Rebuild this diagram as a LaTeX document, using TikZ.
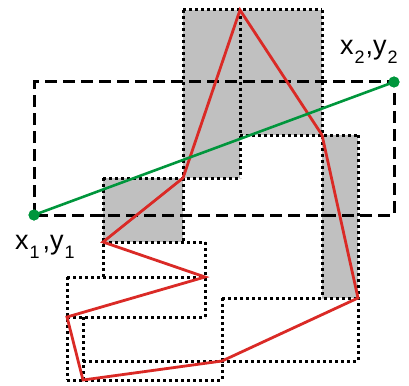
\documentclass[tikz,border=0pt]{standalone}
\usepackage{fontspec}
\setmainfont{Liberation Sans}
\definecolor{redline}{RGB}{218,42,38}
\definecolor{greenline}{RGB}{0,150,60}
\definecolor{boxgray}{RGB}{192,192,192}
\newcommand{\sublbl}[1]{\kern1pt\raisebox{-9pt}{\fontsize{18}{18}\selectfont #1}\kern1pt}
\begin{document}
\begin{tikzpicture}[x=1pt,y=-1pt,
  mbr/.style={line width=3pt,dash pattern=on 3pt off 3pt,black},
  grayfill/.style={fill=boxgray,draw=none},
  query/.style={line width=3pt,dash pattern=on 12pt off 6pt,black},
  edge/.style={line width=2.8pt,redline,line join=miter},
  seg/.style={line width=2.6pt,greenline},
  endpt/.style={circle,fill=greenline,inner sep=0pt,minimum size=11pt},
  lbl/.style={font=\fontsize{27}{27}\selectfont,inner sep=0pt}]
\useasboundingbox (0,0) rectangle (409,385);
% polygon vertices
\coordinate (p1) at (240,10);
\coordinate (p2) at (322,135);
\coordinate (p3) at (358,298);
\coordinate (p4) at (222,361);
\coordinate (p5) at (83,380);
\coordinate (p6) at (67,317);
\coordinate (p7) at (205,277);
\coordinate (p8) at (103,242);
\coordinate (p9) at (183,178);
% gray MBRs
\fill[grayfill] (p9) rectangle (p1);
\fill[grayfill] (p1) rectangle (p2);
\fill[grayfill] (p2) rectangle (p3);
\fill[grayfill] (p8) rectangle (p9);
% MBR outlines (each edge drawn once)
\draw[mbr] (183,10) -- (322,10);
\draw[mbr] (240,135) -- (358,135);
\draw[mbr] (103,178) -- (240,178);
\draw[mbr] (103,242) -- (205,242);
\draw[mbr] (67,277) -- (205,277);
\draw[mbr] (222,298) -- (358,298);
\draw[mbr] (67,317) -- (205,317);
\draw[mbr] (83,361) -- (358,361);
\draw[mbr] (67,380) -- (222,380);
\draw[mbr] (67,277) -- (67,380);
\draw[mbr] (83,317) -- (83,380);
\draw[mbr] (103,178) -- (103,277);
\draw[mbr] (183,10) -- (183,242);
\draw[mbr] (205,242) -- (205,317);
\draw[mbr] (222,298) -- (222,380);
\draw[mbr] (240,10) -- (240,178);
\draw[mbr] (322,10) -- (322,298);
\draw[mbr] (358,135) -- (358,361);
% query rectangle
\coordinate (q1) at (34,215);
\coordinate (q2) at (394,82);
\draw[query] (q1) rectangle (q2);
% polygon
\draw[edge] (p1) -- (p2) -- (p3) -- (p4) -- (p5) -- (p6) -- (p7) -- (p8) -- (p9) -- cycle;
% segment
\node[endpt] (e1) at (q1) {};
\node[endpt] (e2) at (q2) {};
\draw[seg] (e1.center) -- (e2.center);
\node[endpt] at (q1) {};
\node[endpt] at (q2) {};
% labels
\node[lbl,anchor=base west] (l1) at (15,249) {x\sublbl{1}\kern2pt,y\sublbl{1}};
\node[lbl,anchor=base west] (l2) at (340,55) {x\sublbl{2},y\sublbl{2}};
\end{tikzpicture}
\end{document}
